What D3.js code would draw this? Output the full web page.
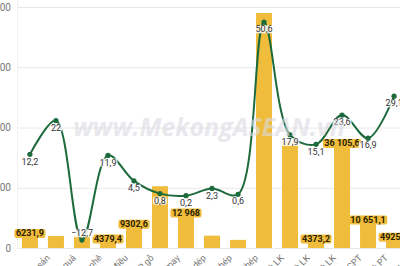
<!DOCTYPE html>
<html>
<head>
<meta charset="utf-8">
<script src="https://cdn.jsdelivr.net/npm/d3@7"></script>
<style>
    html, body { margin: 0; padding: 0; background: #fff; }
    svg { display: block; font-family: Roboto, "Noto Sans", sans-serif; }
</style>
</head>
<body>
<svg id="chartSvg" width="400" height="266"></svg>
<script>
// hàng xuất khẩu (nhãn bị cắt ở mép dưới, như bản gốc)
var categories = ["Hàng thủy sản", "Hàng rau quả", "Cà phê", "Hạt điều", "Gỗ và SP gỗ",
    "Hàng dệt, may", "Giày dép", "Sắt thép", "SP từ sắt thép", "Điện thoại và LK",
    "MVT, SPĐT và LK", "Máy ảnh và LK", "MMTB, DCPT", "PTVT và PT", "Đồ chơi và BP"];
// kim ngạch (triệu USD)
var exportValues = [6231.9, 4000, 4200, 4379.4, 9302.6, 20500, 12968, 4100, 2700,
    78000, 35500, 4373.2, 36105.6, 10651.1, 4925.3];
var showBarLabel = [true, false, false, true, true, false, true, false, false,
    false, false, true, true, true, true];
// tăng trưởng (%)
var growthValues = [12.2, 22, -12.7, 11.9, 4.5, 0.8, 0.2, 2.3, 0.6, 50.6, 17.9, 15.1, 23.6, 16.9, 29.1];
var yTicks = [0, 20000, 40000, 60000, 80000];

var svg = d3.select("#chartSvg");
var barColor = "#F0BC3C", lineColor = "#1D6B3C";

var xScale = d3.scaleBand().domain(categories).range([17, 407]).paddingInner(0.385).paddingOuter(0.19);
var yScale = d3.scaleLinear().domain([0, 80000]).range([248, 7]);
var y2Scale = d3.scaleLinear().domain([-15, 55]).range([248, 7]);

function xc(i) { return xScale(categories[i]) + xScale.bandwidth() / 2; }

function fmtNum(v) {
    var s = Math.abs(v) >= 10000 ? d3.format(",.1f")(v) : d3.format(".1f")(v);
    s = s.replace(/,/g, " ").replace(".", ",");
    return s.replace(/,0$/, "");
}

// lưới ngang
svg.append("g").selectAll("line").data(yTicks).enter()
    .append("line")
    .attr("x1", 17).attr("x2", 400)
    .attr("y1", function (d) { return yScale(d) + 0.5; })
    .attr("y2", function (d) { return yScale(d) + 0.5; })
    .attr("stroke", "#e8e8e8").attr("stroke-width", 1);
svg.append("line").attr("x1", 17.5).attr("x2", 17.5).attr("y1", 0).attr("y2", 248)
    .attr("stroke", "#f2f2f2");

// nhãn trục trái
var y_axis = d3.axisLeft(yScale).tickValues(yTicks).tickSize(0).tickPadding(0)
    .tickFormat(function (d) { return fmtNum(d); });
var gy = svg.append("g").attr("transform", "translate(11,0)").call(y_axis);
gy.select(".domain").remove();
gy.selectAll("text").attr("fill", "#777").style("font-size", "10px").style("font-family", "Roboto, sans-serif");

// nhãn trục x, xoay -45
var x_axis = d3.axisBottom(xScale).tickSize(0).tickPadding(0);
var gx = svg.append("g").attr("transform", "translate(0,250)").call(x_axis);
gx.select(".domain").remove();
gx.selectAll("text")
    .attr("fill", "#777").style("font-size", "9px").style("font-family", "Roboto, sans-serif")
    .attr("text-anchor", "end")
    .attr("dy", "0.7em")
    .attr("transform", "translate(16,4) rotate(-45)");

// cột
svg.append("g").selectAll("rect").data(exportValues).enter()
    .append("rect")
    .attr("x", function (d, i) { return xScale(categories[i]); })
    .attr("y", function (d) { return yScale(d); })
    .attr("width", xScale.bandwidth())
    .attr("height", function (d) { return yScale(0) - yScale(d); })
    .attr("fill", barColor);

// đường tăng trưởng
var growthLine = d3.line()
    .x(function (d, i) { return xc(i); })
    .y(function (d) { return y2Scale(d); })
    .curve(d3.curveCatmullRom.alpha(0.5));
svg.append("path").datum(growthValues)
    .attr("d", growthLine)
    .attr("fill", "none").attr("stroke", lineColor).attr("stroke-width", 2);
svg.append("g").selectAll("circle").data(growthValues).enter()
    .append("circle")
    .attr("cx", function (d, i) { return xc(i); })
    .attr("cy", function (d) { return y2Scale(d); })
    .attr("r", 2.6).attr("fill", lineColor);

// nhãn cột
var barIdx = d3.range(exportValues.length).filter(function (i) { return showBarLabel[i]; });
var barLabels = svg.append("g").selectAll("g").data(barIdx).enter()
    .append("g")
    .attr("transform", function (i) {
        return "translate(" + xc(i) + "," + (yScale(exportValues[i]) + 4) + ")";
    });
barLabels.append("text")
    .text(function (i) { return fmtNum(exportValues[i]); })
    .attr("text-anchor", "middle").attr("dy", "0.35em")
    .attr("fill", "#2b2200").style("font-size", "9px").style("font-weight", "bold");
barLabels.each(function () {
    var g = d3.select(this), bb = g.select("text").node().getBBox();
    g.insert("rect", "text")
        .attr("x", bb.x - 1.5).attr("y", bb.y + 0.5)
        .attr("width", bb.width + 3).attr("height", bb.height - 1)
        .attr("rx", 2).attr("fill", barColor);
});

// nhãn đường
var lineLabels = svg.append("g").selectAll("g").data(growthValues).enter()
    .append("g")
    .attr("transform", function (d, i) {
        var off = d < 0 ? -7 : 7;
        return "translate(" + xc(i) + "," + (y2Scale(d) + off) + ")";
    });
lineLabels.append("text")
    .text(function (d) { return fmtNum(d); })
    .attr("text-anchor", "middle").attr("dy", "0.35em")
    .attr("fill", "#333").style("font-size", "9px");
lineLabels.each(function () {
    var g = d3.select(this), bb = g.select("text").node().getBBox();
    g.insert("rect", "text")
        .attr("x", bb.x - 1).attr("y", bb.y + 1)
        .attr("width", bb.width + 2).attr("height", bb.height - 2)
        .attr("rx", 2).attr("fill", "#fff").attr("opacity", 0.85);
});

// watermark
svg.append("text")
    .attr("x", 209).attr("y", 136)
    .attr("text-anchor", "middle")
    .text("www.MekongASEAN.vn")
    .style("font-family", "'Open Sans', sans-serif")
    .style("font-size", "25px").style("font-weight", "bold").style("font-style", "italic")
    .attr("fill", "#d9dae2").attr("opacity", 0.6);
</script>
</body>
</html>
